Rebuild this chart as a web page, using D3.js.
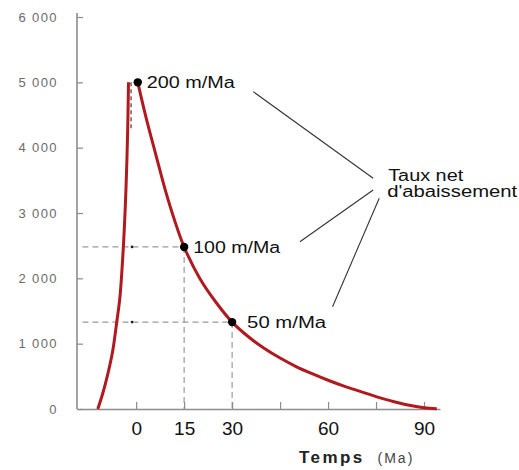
<!DOCTYPE html>
<html>
<head>
<meta charset="utf-8">
<script src="https://cdn.jsdelivr.net/npm/d3@7/dist/d3.min.js"></script>
<style>
  body { margin: 0; background: #fff; }
  svg { display: block; font-family: "Liberation Sans", Arial, sans-serif; }
</style>
</head>
<body>
<div id="chart"></div>
<script>
// Uplift (rising limb), time in Ma, height in m
const upliftTime   = [-12, -10.5, -8.8, -7.3, -6.1, -5.1, -4.1, -3.4, -2.9, -2.6, -2.4];
const upliftHeight = [0, 230, 550, 900, 1320, 1700, 2400, 3100, 3800, 4400, 5000];

// Erosion (falling limb)
const erosionTime   = [0.5, 3, 6, 9, 12, 15, 20, 25, 30, 35, 40, 45, 50, 55, 60, 65, 70, 75, 80, 85, 90, 94];
const erosionHeight = [5000, 4480, 3920, 3370, 2890, 2480, 1990, 1630, 1330, 1110, 930, 780, 650, 540, 440, 350, 270, 190, 120, 60, 20, 5];

// Marked rates
const rateTime   = [0.5, 15, 30];
const rateHeight = [5000, 2480, 1330];
const rateLabels = ["200 m/Ma", "100 m/Ma", "50 m/Ma"];

const yTicks = [0, 1000, 2000, 3000, 4000, 5000, 6000];
const xTicks = [0, 15, 30, 45, 60, 75, 90];
const xTickLabels = [0, 15, 30, 60, 90];

const noteLines = ["Taux net", "d'abaissement"];

const W = 519, H = 470;

const svg = d3.select("#chart").append("svg")
    .attr("width", W)
    .attr("height", H);

const x = d3.scaleLinear().domain([-18.5, 95]).range([77, 440]);
const y = d3.scaleLinear().domain([0, 6000]).range([409, 17]);

const fr = d3.formatLocale({ decimal: ",", thousands: " ", grouping: [3], currency: ["", ""] });
const fmt = fr.format(",");

// Dashed guide lines
const guide = svg.append("g")
    .attr("stroke", "#9a9a9a")
    .attr("stroke-width", 1.2)
    .attr("stroke-dasharray", "6,4");

rateTime.slice(1).forEach((t, i) => {
    const h = rateHeight[i + 1];
    guide.append("line")
        .attr("x1", x(-16.8)).attr("x2", x(t))
        .attr("y1", y(h)).attr("y2", y(h));
    guide.append("line")
        .attr("x1", x(t)).attr("x2", x(t))
        .attr("y1", y(h)).attr("y2", y(0));
});

// short dark dashed line under the peak
svg.append("line")
    .attr("x1", x(-1.6)).attr("x2", x(-1.6))
    .attr("y1", y(5000)).attr("y2", y(4250))
    .attr("stroke", "#5a3030")
    .attr("stroke-width", 1.2)
    .attr("stroke-dasharray", "4,3");

svg.selectAll(".mini")
    .data(rateHeight.slice(1))
    .enter().append("circle")
    .attr("cx", x(-1.3))
    .attr("cy", d => y(d))
    .attr("r", 1.4)
    .attr("fill", "#222");

// Y axis
const gy = svg.append("g")
    .attr("transform", `translate(${x(-18.5)},0)`)
    .call(d3.axisLeft(y).tickValues(yTicks).tickSizeInner(-6).tickSizeOuter(0)
        .tickPadding(19).tickFormat(fmt));
gy.select(".domain").attr("stroke", "#8c8c8c").attr("stroke-width", 1.6)
    .attr("d", `M0,${y(0)}V13`);
gy.selectAll(".tick line").attr("stroke", "#8c8c8c").attr("stroke-width", 1.2);
gy.selectAll(".tick text")
    .attr("fill", "#6b6b6b")
    .style("font-size", "13px")
    .style("letter-spacing", "1.4px")
    .style("font-family", "'Liberation Sans', Arial, sans-serif");

// X axis
const gx = svg.append("g")
    .attr("transform", `translate(0,${y(0)})`)
    .call(d3.axisBottom(x).tickValues(xTicks).tickSizeInner(-7).tickSizeOuter(0)
        .tickPadding(13).tickFormat(d => xTickLabels.includes(d) ? d : ""));
gx.select(".domain").attr("stroke", "#8c8c8c").attr("stroke-width", 1.6);
gx.selectAll(".tick line").attr("stroke", "#8c8c8c").attr("stroke-width", 1.2);
gx.selectAll(".tick text")
    .attr("fill", "#111")
    .style("font-size", "19px")
    .style("font-family", "'Liberation Sans', Arial, sans-serif");

// Curves
const line = d3.line()
    .x(d => x(d[0]))
    .y(d => y(d[1]))
    .curve(d3.curveCatmullRom.alpha(0.5));

const curveColor = "#b0191e";

svg.append("path")
    .datum(upliftTime.map((t, i) => [t, upliftHeight[i]]))
    .attr("d", line)
    .attr("fill", "none")
    .attr("stroke", curveColor)
    .attr("stroke-width", 3);

svg.append("path")
    .datum(erosionTime.map((t, i) => [t, erosionHeight[i]]))
    .attr("d", line)
    .attr("fill", "none")
    .attr("stroke", curveColor)
    .attr("stroke-width", 3);

// Rate points and labels
svg.selectAll(".rate")
    .data(rateTime)
    .enter().append("circle")
    .attr("cx", d => x(d))
    .attr("cy", (d, i) => y(rateHeight[i]))
    .attr("r", 4.2)
    .attr("fill", "#000");

const labelLen = [88, 87, 79];
svg.selectAll(".rate-label")
    .data(rateLabels)
    .enter().append("text")
    .attr("x", (d, i) => x(rateTime[i]) + (i === 2 ? 15 : 9))
    .attr("y", (d, i) => y(rateHeight[i]) + 6)
    .attr("textLength", (d, i) => labelLen[i])
    .attr("lengthAdjust", "spacingAndGlyphs")
    .style("font-size", "16px")
    .attr("fill", "#111")
    .text(d => d);

// Leader lines to the note
const leaders = [
    [36.6, 4857, 74.1, 3531],
    [51.2, 2561, 74.1, 3352],
    [61.4, 1566, 76.0, 3225]
];
svg.selectAll(".leader")
    .data(leaders)
    .enter().append("line")
    .attr("x1", d => x(d[0])).attr("y1", d => y(d[1]))
    .attr("x2", d => x(d[2])).attr("y2", d => y(d[3]))
    .attr("stroke", "#333")
    .attr("stroke-width", 1.1);

const noteLen = [75, 130];
svg.selectAll(".note")
    .data(noteLines)
    .enter().append("text")
    .attr("x", (d, i) => x(78.8) - i)
    .attr("y", (d, i) => 181 + i * 15.5)
    .attr("textLength", (d, i) => noteLen[i])
    .attr("lengthAdjust", "spacingAndGlyphs")
    .style("font-size", "16px")
    .attr("fill", "#111")
    .text(d => d);

// X axis title
const title = svg.append("text")
    .attr("x", 299)
    .attr("y", 463);
title.append("tspan")
    .style("font-weight", "bold")
    .style("font-size", "17px")
    .style("letter-spacing", "2.4px")
    .attr("fill", "#222")
    .text("Temps");
title.append("tspan")
    .attr("dx", 13)
    .style("font-size", "14px")
    .style("letter-spacing", "2px")
    .attr("fill", "#444")
    .text("(Ma)");
</script>
</body>
</html>
